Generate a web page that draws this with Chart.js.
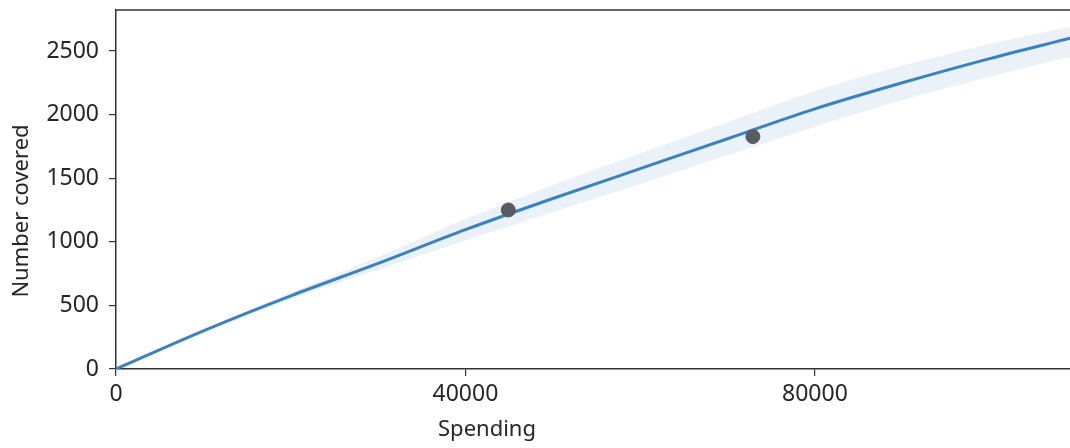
<!DOCTYPE html>
<html>
<head>
<meta charset="utf-8">
<script src="https://cdn.jsdelivr.net/npm/chart.js@4"></script>
<style>
  body { margin: 0; background: #fff; }
  #wrap { width: 1070px; height: 448px; position: relative; }
</style>
</head>
<body>
<div id="wrap"><canvas id="chart"></canvas></div>
<script>
// Data
const spending = [0, 10000, 20000, 30000, 40000, 50000, 60000, 70000, 80000, 90000, 100000, 109200];
const fitted   = [0, 300, 575, 830, 1095, 1340, 1575, 1810, 2045, 2250, 2440, 2600];
const upper    = [0, 310, 600, 880, 1180, 1445, 1695, 1940, 2185, 2385, 2555, 2690];
const lower    = [0, 290, 550, 780, 1010, 1235, 1455, 1680, 1905, 2115, 2298, 2455];
const observedSpending = [44900, 72900];
const observedCovered  = [1250, 1827];
const xTicks = [0, 40000, 80000];
const yTicks = [0, 500, 1000, 1500, 2000, 2500];

const axisColor = '#333333';
const textColor = '#262626';
const fontFamily = "'Noto Sans', 'Open Sans', sans-serif";

function toPoints(xs, ys) {
    return xs.map((x, i) => ({ x: x, y: ys[i] }));
}

// Draws the top frame line and the axis titles where the reference has them
const framePlugin = {
    id: 'frame',
    afterDraw(chart) {
        const { ctx, chartArea } = chart;
        ctx.save();
        ctx.strokeStyle = axisColor;
        ctx.lineWidth = 1.5;
        ctx.beginPath();
        ctx.moveTo(chartArea.left, chartArea.top);
        ctx.lineTo(chartArea.right, chartArea.top);
        ctx.stroke();

        ctx.fillStyle = textColor;
        ctx.font = `22px ${fontFamily}`;
        ctx.textAlign = 'center';
        ctx.textBaseline = 'middle';
        ctx.fillText('Spending', 487, 430);

        ctx.translate(22, 211);
        ctx.rotate(-Math.PI / 2);
        ctx.fillText('Number covered', 0, 0);
        ctx.restore();
    }
};

const ctx = document.getElementById('chart').getContext('2d');
new Chart(ctx, {
    type: 'line',
    data: {
        datasets: [
            {
                type: 'scatter',
                label: 'Observed',
                data: toPoints(observedSpending, observedCovered),
                backgroundColor: '#575c61',
                borderColor: '#575c61',
                pointRadius: 7,
                order: 0
            },
            {
                label: 'Fit',
                data: toPoints(spending, fitted),
                borderColor: '#3882c4',
                borderWidth: 3,
                pointRadius: 0,
                cubicInterpolationMode: 'monotone',
                fill: false,
                order: 1
            },
            {
                label: 'Upper',
                data: toPoints(spending, upper),
                borderWidth: 0,
                pointRadius: 0,
                cubicInterpolationMode: 'monotone',
                backgroundColor: 'rgba(222, 233, 245, 0.65)',
                fill: '+1',
                order: 2
            },
            {
                label: 'Lower',
                data: toPoints(spending, lower),
                borderWidth: 0,
                pointRadius: 0,
                cubicInterpolationMode: 'monotone',
                fill: false,
                order: 3
            }
        ]
    },
    options: {
        responsive: true,
        maintainAspectRatio: false,
        animation: false,
        layout: { autoPadding: false, padding: { top: 10, right: 0, left: 0, bottom: 0 } },
        plugins: {
            legend: { display: false },
            tooltip: { enabled: false }
        },
        scales: {
            x: {
                type: 'linear',
                min: 0,
                max: 109200,
                afterBuildTicks: axis => { axis.ticks = xTicks.map(v => ({ value: v })); },
                afterFit: axis => {
                    axis.height = 79;
                    axis.paddingLeft = 0;
                    axis.paddingRight = 0;
                },
                grid: { display: true, drawOnChartArea: false, tickLength: 7, color: axisColor, lineWidth: 1.2 },
                border: { color: axisColor, width: 1.5 },
                ticks: {
                    color: textColor,
                    font: { family: fontFamily, size: 23 },
                    padding: 5,
                    maxRotation: 0,
                    callback: v => String(v)
                }
            },
            y: {
                type: 'linear',
                min: 0,
                max: 2822,
                afterBuildTicks: axis => { axis.ticks = yTicks.map(v => ({ value: v })); },
                afterFit: axis => {
                    axis.width = 116;
                    axis.paddingTop = 0;
                    axis.paddingBottom = 0;
                },
                grid: { display: true, drawOnChartArea: false, tickLength: 7, color: axisColor, lineWidth: 1.2 },
                border: { color: axisColor, width: 1.5 },
                ticks: {
                    color: textColor,
                    font: { family: fontFamily, size: 23 },
                    padding: 10,
                    callback: v => String(v)
                }
            }
        }
    },
    plugins: [framePlugin]
});
</script>
</body>
</html>
